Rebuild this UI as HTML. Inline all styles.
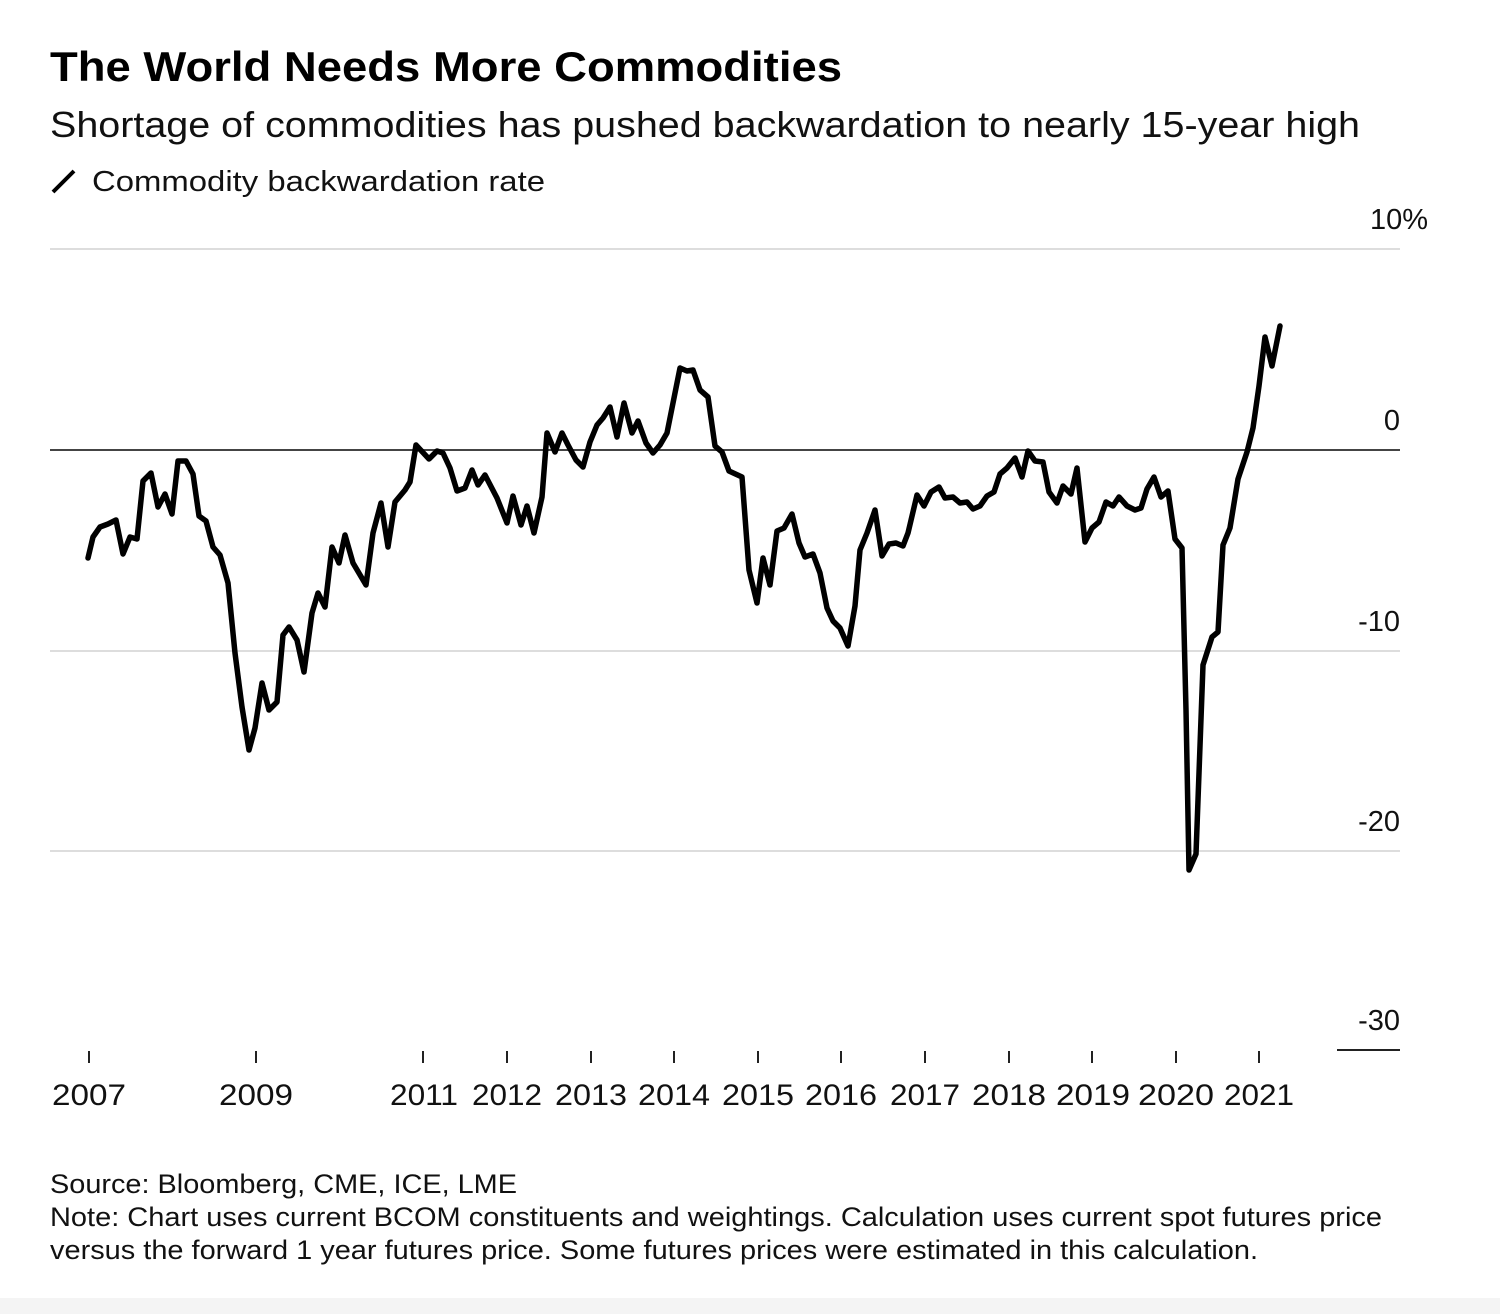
<!DOCTYPE html>
<html><head><meta charset="utf-8"><style>
body{margin:0;background:#fff;}
svg{display:block;font-family:"Liberation Sans",Arial,sans-serif;}
</style></head><body>
<svg width="1500" height="1314" viewBox="0 0 1500 1314" xmlns="http://www.w3.org/2000/svg">
<rect width="1500" height="1314" fill="#fff"/>
<text x="50" y="81" font-size="42" font-weight="bold" fill="#000" textLength="792" lengthAdjust="spacingAndGlyphs">The World Needs More Commodities</text>
<text x="50" y="137" font-size="36" fill="#111" textLength="1310" lengthAdjust="spacingAndGlyphs">Shortage of commodities has pushed backwardation to nearly 15-year high</text>
<line x1="53" y1="192" x2="74" y2="171" stroke="#000" stroke-width="4"/>
<text x="92" y="191" font-size="29" fill="#111" textLength="453" lengthAdjust="spacingAndGlyphs">Commodity backwardation rate</text>
<g stroke="#ddd" stroke-width="2">
<line x1="50" y1="249" x2="1400" y2="249"/>
<line x1="50" y1="651" x2="1400" y2="651"/>
<line x1="50" y1="851" x2="1400" y2="851"/>
</g>
<line x1="50" y1="450" x2="1400" y2="450" stroke="#444" stroke-width="2"/>
<line x1="1337" y1="1050" x2="1400" y2="1050" stroke="#222" stroke-width="2"/>
<g font-size="29" fill="#111" text-anchor="end">
<text x="1428" y="229">10%</text>
<text x="1400" y="430">0</text>
<text x="1400" y="631">-10</text>
<text x="1400" y="831">-20</text>
<text x="1400" y="1030">-30</text>
</g>
<g stroke="#222" stroke-width="2">
<line x1="89" y1="1051" x2="89" y2="1063"/><line x1="256" y1="1051" x2="256" y2="1063"/>
<line x1="423" y1="1051" x2="423" y2="1063"/><line x1="507" y1="1051" x2="507" y2="1063"/>
<line x1="591" y1="1051" x2="591" y2="1063"/><line x1="674" y1="1051" x2="674" y2="1063"/>
<line x1="758" y1="1051" x2="758" y2="1063"/><line x1="841" y1="1051" x2="841" y2="1063"/>
<line x1="925" y1="1051" x2="925" y2="1063"/><line x1="1009" y1="1051" x2="1009" y2="1063"/>
<line x1="1092" y1="1051" x2="1092" y2="1063"/><line x1="1176" y1="1051" x2="1176" y2="1063"/>
<line x1="1259" y1="1051" x2="1259" y2="1063"/>
</g>
<g font-size="30" fill="#111">
<text x="52" y="1105" textLength="74" lengthAdjust="spacingAndGlyphs">2007</text>
<text x="219" y="1105" textLength="74" lengthAdjust="spacingAndGlyphs">2009</text>
<text x="390" y="1105" textLength="68" lengthAdjust="spacingAndGlyphs">2011</text>
<text x="472" y="1105" textLength="70" lengthAdjust="spacingAndGlyphs">2012</text>
<text x="555" y="1105" textLength="72" lengthAdjust="spacingAndGlyphs">2013</text>
<text x="638" y="1105" textLength="72" lengthAdjust="spacingAndGlyphs">2014</text>
<text x="722" y="1105" textLength="72" lengthAdjust="spacingAndGlyphs">2015</text>
<text x="805" y="1105" textLength="72" lengthAdjust="spacingAndGlyphs">2016</text>
<text x="890" y="1105" textLength="70" lengthAdjust="spacingAndGlyphs">2017</text>
<text x="972" y="1105" textLength="74" lengthAdjust="spacingAndGlyphs">2018</text>
<text x="1056" y="1105" textLength="74" lengthAdjust="spacingAndGlyphs">2019</text>
<text x="1138" y="1105" textLength="76" lengthAdjust="spacingAndGlyphs">2020</text>
<text x="1224" y="1105" textLength="70" lengthAdjust="spacingAndGlyphs">2021</text>
</g>
<polyline fill="none" stroke="#000" stroke-width="5.5" stroke-linejoin="round" stroke-linecap="round" points="
88,558 93,537 100,527 108,524 116,520 123,554 130,537 137,539 143,481 151,473 158,507 165,494 172,514 178,461 186,461 193,474 199,516 206,521 213,547 220,555 228,583 235,653 242,707 249,750 255,728 262,683 269,710 277,702 283,635 289,627 297,640 304,672 312,613 318,593 325,607 332,547 339,563 345,535 353,563 366,585 373,533 381,503 388,547 395,502 405,490 410,482 416,445 429,459 437,451 443,453 450,468 457,491 465,488 472,470 478,485 485,475 497,498 507,523 513,496 521,525 527,506 534,533 542,497 547,433 555,452 562,433 568,445 576,460 583,467 590,442 597,425 603,418 610,407 617,437 624,403 632,433 638,421 646,443 653,453 660,445 667,433 673,403 680,368 687,371 693,370 700,390 708,397 715,446 722,452 729,471 742,477 749,570 757,603 763,558 770,585 777,531 784,528 792,514 799,543 805,557 813,554 820,573 827,608 833,621 840,628 848,646 855,606 860,550 867,533 875,510 882,556 889,544 896,543 903,546 908,533 917,495 924,506 931,492 939,487 945,498 953,497 960,503 967,502 973,509 980,506 987,496 994,492 1000,474 1007,468 1015,458 1022,477 1028,451 1035,461 1043,462 1049,492 1057,503 1063,486 1071,494 1077,468 1085,542 1092,528 1099,522 1106,502 1113,506 1119,497 1127,506 1135,510 1141,508 1147,489 1154,477 1161,497 1168,491 1175,539 1182,548 1186,710 1189,870 1196,854 1203,665 1212,637 1218,632 1223,545 1230,528 1238,479 1247,452 1253,428 1259,386 1265,337 1272,366 1280,326"/>
<g font-size="27" fill="#111">
<text x="50" y="1193" textLength="467" lengthAdjust="spacingAndGlyphs">Source: Bloomberg, CME, ICE, LME</text>
<text x="50" y="1226" textLength="1332" lengthAdjust="spacingAndGlyphs">Note: Chart uses current BCOM constituents and weightings. Calculation uses current spot futures price</text>
<text x="50" y="1259" textLength="1208" lengthAdjust="spacingAndGlyphs">versus the forward 1 year futures price. Some futures prices were estimated in this calculation.</text>
</g>
<rect x="0" y="1298" width="1500" height="16" fill="#f4f4f4"/>
</svg>
</body></html>
